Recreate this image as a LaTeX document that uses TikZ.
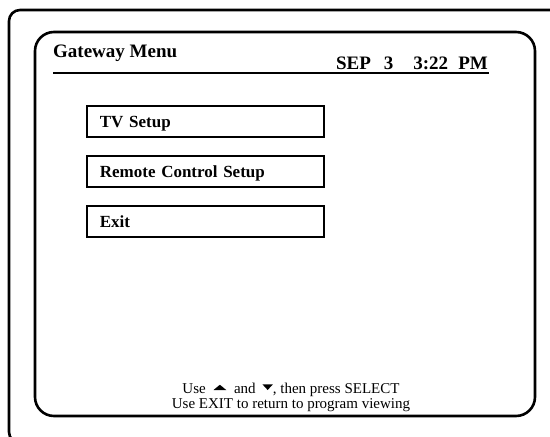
\documentclass[tikz,border=0pt]{standalone}
\usepackage{fontspec}
\setmainfont{Liberation Serif}
\newcommand{\uptri}{\tikz[baseline=0pt]\fill (0,0.2em) -- (0.85em,0.2em) -- (0.425em,0.55em) -- cycle;}
\newcommand{\downtri}{\tikz[baseline=0pt]\fill (0,0.58em) -- (0.7em,0.58em) -- (0.35em,0.2em) -- cycle;}
\tikzset{
	frame/.style={line width=2.6pt, line join=round},
	menubox/.style={draw, line width=1.8pt, anchor=north west, minimum width=237pt, minimum height=31pt, text width=211pt, inner xsep=13pt, align=left, text height=12pt, text depth=0pt, font=\fontsize{17}{17}\selectfont\bfseries},
	hint/.style={anchor=base, inner sep=0pt, font=\fontsize{15}{15}\selectfont},
}
\begin{document}
\begin{tikzpicture}[x=1pt,y=-1pt]
		\useasboundingbox (0,0) rectangle (550,437);
		\clip (0,0) rectangle (550,437);
		\draw[frame, rounded corners=11pt] (9,10) rectangle (575,443);
		\draw[frame, rounded corners=19pt] (35,32) rectangle (535,416);
		
		\node[anchor=base west, inner sep=0pt, font=\fontsize{19}{19}\selectfont\bfseries] (title) at (53,57) {Gateway Menu};
		\node[anchor=base east, inner sep=0pt, font=\fontsize{19}{19}\selectfont\bfseries] (clock) at (488,69) {SEP\hspace{13pt}3\hspace{20pt}3:22\hspace{10pt}PM};
		\draw[line width=2.2pt] (53,73) -- (489,73);
		
		\foreach \y/\txt/\nm in {105/TV Setup/tv, 155/Remote Control Setup/remote, 205/Exit/exit}{
			\node[menubox] (\nm) at (86,\y) {\txt};
		}
		
		\node[hint] (hintA) at (291,393) {Use \hspace{4pt}\uptri\hspace{4pt} and \hspace{3pt}\downtri, then press SELECT};
		\node[hint] (hintB) at (291,408) {Use EXIT to return to program viewing};
\end{tikzpicture}
\end{document}
